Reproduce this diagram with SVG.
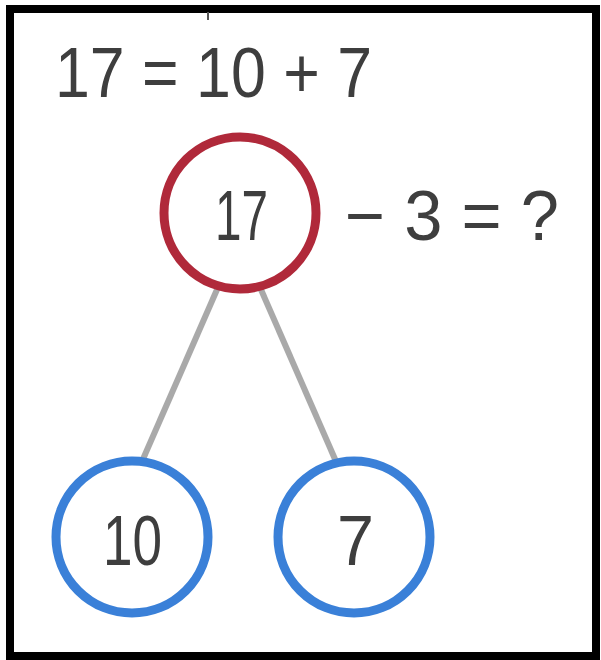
<svg xmlns="http://www.w3.org/2000/svg" width="601" height="660" viewBox="0 0 601 660">
<style>
.t{font-family:"Liberation Sans",Arial,sans-serif;fill:#3e3e3e;font-size:70px}
.c{text-anchor:middle}
.link{stroke:#a9a9a9;stroke-width:6;fill:none}
.red{fill:#fff;stroke:#b0293a;stroke-width:9}
.blue{fill:#fff;stroke:#3a80d8;stroke-width:9}
</style>
<rect x="0" y="0" width="601" height="660" fill="#fff"/>
<rect x="10" y="9" width="586" height="647" fill="none" stroke="#000" stroke-width="8"/>
<line x1="208" y1="12" x2="208" y2="20" stroke="#555" stroke-width="2"/>
<text class="t" x="55" y="97" textLength="317" lengthAdjust="spacingAndGlyphs">17 = 10 + 7</text>
<g id="connectors">
<line class="link" x1="219" y1="285" x2="140" y2="466"/>
<line class="link" x1="259" y1="285" x2="338" y2="466"/>
</g>
<g id="node-17">
<circle class="red" cx="240" cy="213" r="76"/>
<text class="t" x="215" y="240" textLength="53" lengthAdjust="spacingAndGlyphs">17</text>
</g>
<text class="t" x="345" y="240" textLength="214" lengthAdjust="spacingAndGlyphs">− 3 = ?</text>
<g id="node-10">
<circle class="blue" cx="132" cy="537" r="76"/>
<text class="t" x="103" y="565" textLength="59" lengthAdjust="spacingAndGlyphs">10</text>
</g>
<g id="node-7">
<circle class="blue" cx="354" cy="537" r="76"/>
<text class="t" x="337" y="565" textLength="37" lengthAdjust="spacingAndGlyphs">7</text>
</g>
</svg>
